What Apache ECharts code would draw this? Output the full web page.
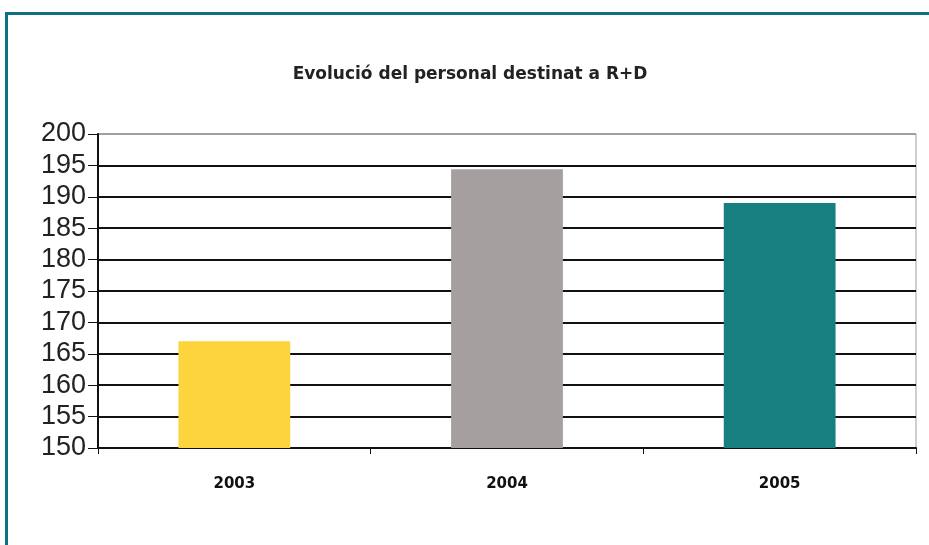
<!DOCTYPE html>
<html>
<head>
<meta charset="utf-8">
<script src="https://cdn.jsdelivr.net/npm/echarts@6/dist/echarts.min.js"></script>
<style>
  html, body { margin: 0; padding: 0; background: #fff; }
  #frame {
    position: absolute;
    left: 5px;
    top: 12px;
    width: 940px;
    height: 560px;
    border-left: 3px solid #0e7080;
    border-top: 3px solid #0e7080;
  }
  #chart {
    position: absolute;
    left: 0;
    top: 0;
    width: 929px;
    height: 545px;
  }
</style>
</head>
<body>
<div id="frame"></div>
<div id="chart"></div>
<script>
const titleText = "Evolució del personal destinat a R+D";
const years = ["2003", "2004", "2005"];
const personal = [167, 194.4, 189];
const barColors = ["#fdd43c", "#a5a09f", "#15807f"];

// grid lines are black except the top one (200), which is the grey plot border
const gridColors = ["#111", "#111", "#111", "#111", "#111", "#111", "#111", "#111", "#111", "#111", "#a0a0a0"];

const myChart = echarts.init(document.getElementById("chart"));

let option = {
  animation: false,
  title: {
    text: titleText,
    left: 465,
    textAlign: "center",
    top: 61,
    textStyle: {
      fontFamily: "DejaVu Sans",
      fontSize: 17,
      fontWeight: "bold",
      color: "#222"
    }
  },
  grid: {
    left: 98,
    right: 13,
    top: 134,
    bottom: 97,
    show: true,
    borderColor: "#a0a0a0",
    borderWidth: 1
  },
  xAxis: {
    type: "category",
    data: years,
    axisLine: { lineStyle: { color: "#111", width: 2 } },
    axisTick: { show: true, length: 6, lineStyle: { color: "#111" } },
    axisLabel: {
      margin: 29,
      fontFamily: "DejaVu Sans",
      fontSize: 15,
      fontWeight: "bold",
      color: "#111"
    }
  },
  yAxis: {
    type: "value",
    min: 150,
    max: 200,
    interval: 5,
    axisLine: { show: true, lineStyle: { color: "#111", width: 2 } },
    axisTick: { show: true, length: 10, lineStyle: { color: "#111" } },
    axisLabel: {
      margin: 12,
      fontFamily: "Liberation Sans",
      fontSize: 27,
      color: "#222"
    },
    splitLine: { lineStyle: { color: gridColors, width: 2 } }
  },
  series: [
    {
      type: "bar",
      barWidth: "41%",
      data: personal.map((v, i) => ({
        value: v,
        itemStyle: { color: barColors[i] }
      }))
    }
  ]
};
myChart.setOption(option, true);
</script>
</body>
</html>
